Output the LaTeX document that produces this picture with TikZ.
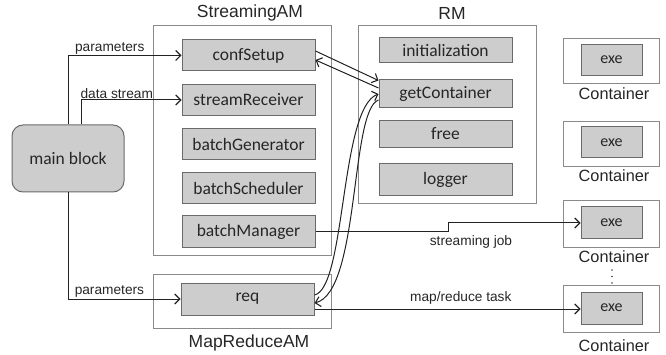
\documentclass[tikz,border=0pt]{standalone}
\usepackage{fontspec}
\setmainfont{Liberation Sans}
\newfontfamily\boxfont{Carlito}
\usetikzlibrary{arrows.meta,positioning}

\definecolor{boxfill}{HTML}{CDCDCD}
\definecolor{boxline}{HTML}{6A6A6A}
\definecolor{frameline}{HTML}{8A8A8A}
\definecolor{wire}{HTML}{222222}

\tikzset{
  px/.style={x=1pt,y=-1pt},
  module/.style={draw=boxline,fill=boxfill,line width=1pt,inner sep=0pt,
    font=\boxfont\fontsize{17.5}{19}\selectfont,text=black!85},
  frame/.style={draw=frameline,line width=0.9pt,inner sep=0pt},
  title/.style={font=\fontsize{17.5}{19}\selectfont,text=black!85},
  ctitle/.style={font=\fontsize{16.3}{18}\selectfont,text=black!85},
  elabel/.style={font=\fontsize{13.7}{15}\selectfont,text=black!85,inner sep=1pt},
  wirestyle/.style={draw=wire,line width=1pt},
  flow/.style={wirestyle,-{Straight Barb[length=5pt,width=10pt,line width=1.1pt]}},
  dot/.style={circle,fill=black!75,inner sep=0pt,minimum size=1.8pt},
}

\begin{document}
\begin{tikzpicture}[px]
\useasboundingbox (0,0) rectangle (666,355);

% main block
\node[module,rounded corners=11pt,minimum width=112pt,minimum height=67pt]
  (main) at (68,158.5) {main block};

% StreamingAM
\node[frame,minimum width=178pt,minimum height=230pt] (sam) at (242,140) {};
\node[title] (samt) at (250,13) {StreamingAM};
\node[module,minimum width=133pt,minimum height=31pt] (conf) at (248.5,55.5) {confSetup};
\node[module,minimum width=133pt,minimum height=31pt] (recv) at (248.5,100) {streamReceiver};
\node[module,minimum width=133pt,minimum height=31pt] (gen)  at (248.5,144) {batchGenerator};
\node[module,minimum width=133pt,minimum height=31pt] (sched) at (248.5,188) {batchScheduler};
\node[module,minimum width=133pt,minimum height=32pt] (mgr)  at (248.5,231.5) {batchManager};

% MapReduceAM
\node[frame,minimum width=178pt,minimum height=54pt] (mram) at (242,301) {};
\node[title] (mramt) at (249,343) {MapReduceAM};
\node[module,minimum width=133pt,minimum height=32pt] (req) at (247.5,299) {req};

% RM
\node[frame,minimum width=178pt,minimum height=178pt] (rm) at (447,114) {};
\node[title] (rmt) at (452,13) {RM};
\node[module,minimum width=133pt,minimum height=25pt] (init) at (445.5,50.5) {initialization};
\node[module,minimum width=133pt,minimum height=28pt] (getc) at (445.5,93.5) {getContainer};
\node[module,minimum width=133pt,minimum height=27pt] (free) at (445.5,134) {free};
\node[module,minimum width=133pt,minimum height=32pt] (logr) at (445.5,180) {logger};

% containers
\tikzset{exe/.style={module,minimum width=61pt,minimum height=31pt,
  font=\boxfont\fontsize{16}{17}\selectfont}}
\node[frame,minimum width=96pt,minimum height=45pt] (c1) at (611,60.5) {};
\node[exe] (e1) at (611.5,60) {exe};
\node[ctitle] (c1t) at (614,94) {Container};

\node[frame,minimum width=96pt,minimum height=45pt] (c2) at (611,143.5) {};
\node[exe] (e2) at (611.5,142.5) {exe};
\node[ctitle] (c2t) at (614,176) {Container};

\node[frame,minimum width=96pt,minimum height=47pt] (c3) at (611,223.5) {};
\node[exe,minimum height=32pt] (e3) at (611.5,223) {exe};
\node[ctitle] (c3t) at (614,257) {Container};

\node[frame,minimum width=96pt,minimum height=47pt] (c4) at (611,308.5) {};
\node[exe,minimum height=32pt] (e4) at (611.5,308) {exe};
\node[ctitle] (c4t) at (614,346) {Container};

% vertical ellipsis between the lower containers
\node[dot] (d1) at (612,270) {};
\node[dot] (d2) at (612,276.5) {};
\node[dot] (d3) at (612,283) {};

% inputs from the main block
\draw[flow] (main.north -| 68,0) |- (conf.west)
  node[elabel,pos=0.684,above] {parameters};
\draw[flow] (main.north -| 81,0) |- (recv.west)
  node[elabel,pos=0.678,above] {data stream};
\draw[flow] (main.south -| 68,0) |- (req.west)
  node[elabel,pos=0.684,above] {parameters};

% confSetup <-> getContainer
\draw[flow] (conf.east |- 0,51) -- (getc.west |- 0,80.5);
\draw[flow] (getc.west |- 0,88) -- (conf.east |- 0,60);

% req <-> getContainer
\draw[flow] (req.east |- 0,295) .. controls (346,288) and (340,108) .. (getc.west |- 0,94);
\draw[flow] (getc.west |- 0,100) .. controls (350,110) and (360,292) .. (req.east |- 0,303);

% jobs sent to the containers
\draw[flow] (mgr.east) -- (448,231.5) |- (e3.west);
\node[elabel] (sjob) at (471,242) {streaming job};
\draw[flow] (req.east |- 0,309) -- (e4.west |- 0,309)
  node[elabel,pos=0.55,above=3pt] {map/reduce task};

\end{tikzpicture}
\end{document}
